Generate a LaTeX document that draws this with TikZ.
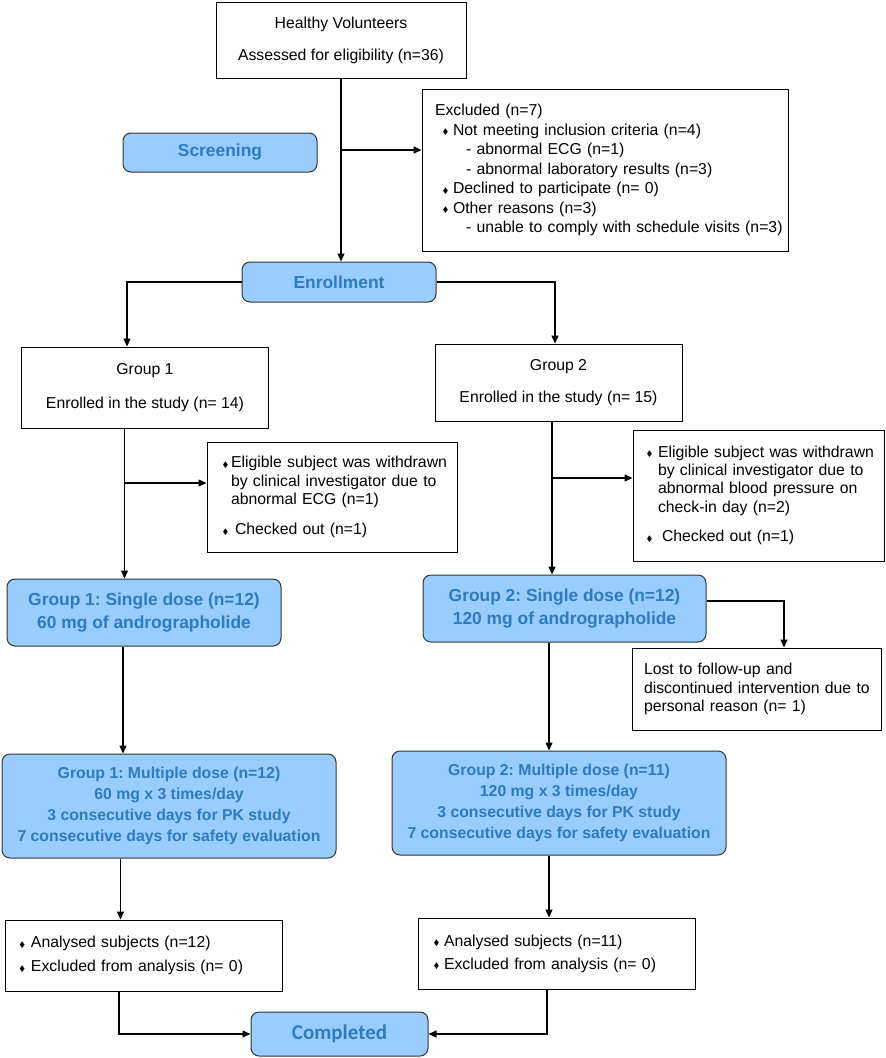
\documentclass[tikz,border=0pt]{standalone}
\usepackage{fontspec}
\setmainfont{Liberation Sans}
\newfontfamily\carlito{Carlito}
\newfontfamily\dejavu{DejaVu Sans}
\usetikzlibrary{arrows.meta}
\definecolor{boxfill}{HTML}{99CCFF}
\definecolor{boxtext}{HTML}{2E7BBF}
\definecolor{boxline}{HTML}{333333}
\newcommand\bul{\raisebox{0.5pt}{\scalebox{0.7}[1]{\dejavu\fontsize{9}{9}\selectfont ◆}}}
\frenchspacing
\begin{document}
\begin{tikzpicture}[x=1pt,y=-1pt,
  plain/.style={draw=black, line width=0.9pt, inner sep=0pt, rectangle, font=\fontsize{15.8}{19.5}\selectfont},
  phase/.style={draw=boxline, line width=1pt, fill=boxfill, rounded corners=8pt, inner sep=0pt, text=boxtext, font=\bfseries\fontsize{17.4}{23}\selectfont, align=center},
  multi/.style={phase, font=\bfseries\fontsize{15.8}{21}\selectfont},
  conn/.style={line width=1.2pt, -{Triangle[length=8pt,width=7pt]}}
]
\useasboundingbox (0,0) rectangle (886,1058);

\node[plain, minimum width=250pt, minimum height=76pt, align=center] (hv) at (341,40)
  {Healthy Volunteers\\[12.5pt]Assessed for eligibility (n=36)};

\node[phase, minimum width=194pt, minimum height=39pt] (scr) at (220,152.5) {Screening};

\node[plain, text width=366pt, minimum height=162pt, align=left] (exc) at (605,170)
  {\hspace*{13pt}Excluded (n=7)\\
   \hspace*{21pt}\makebox[10pt][l]{\bul}Not meeting inclusion criteria (n=4)\\
   \hspace*{44pt}- abnormal ECG (n=1)\\
   \hspace*{44pt}- abnormal laboratory results (n=3)\\
   \hspace*{21pt}\makebox[10pt][l]{\bul}Declined to participate (n= 0)\\
   \hspace*{21pt}\makebox[10pt][l]{\bul}Other reasons (n=3)\\
   \hspace*{44pt}- unable to comply with schedule visits (n=3)};

\node[phase, minimum width=194pt, minimum height=40pt] (enr) at (339,282) {Enrollment};

\node[plain, minimum width=247pt, minimum height=81pt, align=center] (g1) at (145,387.5)
  {Group 1\\[14.5pt]Enrolled in the study (n= 14)};
\node[plain, minimum width=247pt, minimum height=77pt, align=center] (g2) at (558.5,382.5)
  {Group 2\\[12.5pt]Enrolled in the study (n= 15)};

\node[plain, text width=250pt, minimum height=110pt, align=left, font=\fontsize{15.8}{18.5}\selectfont] (ex1) at (332,497)
  {\hspace*{16pt}\makebox[8pt][l]{\bul}Eligible subject was withdrawn\\
   \hspace*{24pt}by clinical investigator due to\\
   \hspace*{24pt}abnormal ECG (n=1)\\[11.5pt]
   \hspace*{16pt}\makebox[12pt][l]{\bul}Checked out (n=1)};

\node[plain, text width=251pt, minimum height=131pt, align=left, font=\fontsize{15.8}{18.3}\selectfont] (ex2) at (758.5,495.5)
  {\hspace*{14pt}\makebox[11pt][l]{\bul}Eligible subject was withdrawn\\
   \hspace*{25pt}by clinical investigator due to\\
   \hspace*{25pt}abnormal blood pressure on\\
   \hspace*{25pt}check-in day (n=2)\\[11.5pt]
   \hspace*{14pt}\makebox[15pt][l]{\bul}Checked out (n=1)};

\node[phase, minimum width=274pt, minimum height=67pt] (sd1) at (144,612.5)
  {Group 1: Single dose (n=12)\\60 mg of andrographolide};
\node[phase, minimum width=283pt, minimum height=67pt] (sd2) at (564.5,608.5)
  {Group 2: Single dose (n=12)\\120 mg of andrographolide};

\node[plain, text width=249pt, minimum height=82pt, align=left, font=\fontsize{15.8}{18.5}\selectfont] (lost) at (756.5,689)
  {\hspace*{12pt}Lost to follow-up and\\
   \hspace*{12pt}discontinued intervention due to\\
   \hspace*{12pt}personal reason (n= 1)};

\node[multi, minimum width=334pt, minimum height=104pt] (md1) at (169,806)
  {Group 1: Multiple dose (n=12)\\60 mg x 3 times/day\\3 consecutive days for PK study\\7 consecutive days for safety evaluation};
\node[multi, minimum width=334pt, minimum height=104pt] (md2) at (559,803)
  {Group 2: Multiple dose (n=11)\\120 mg x 3 times/day\\3 consecutive days for PK study\\7 consecutive days for safety evaluation};

\node[plain, text width=277pt, minimum height=71pt, align=left, font=\fontsize{15.8}{24}\selectfont] (an1) at (143.5,955.5)
  {\hspace*{15pt}\makebox[11pt][l]{\bul}Analysed subjects (n=12)\\
   \hspace*{15pt}\makebox[11pt][l]{\bul}Excluded from analysis (n= 0)};
\node[plain, text width=277pt, minimum height=71pt, align=left, font=\fontsize{15.8}{23}\selectfont] (an2) at (556.5,953.5)
  {\hspace*{16pt}\makebox[10pt][l]{\bul}Analysed subjects (n=11)\\
   \hspace*{16pt}\makebox[10pt][l]{\bul}Excluded from analysis (n= 0)};

\node[phase, minimum width=177pt, minimum height=44pt, font=\carlito\bfseries\fontsize{21}{24}\selectfont] (cmp) at (339.5,1034) {Completed};

% connectors
\draw[conn] (hv.south) -- (hv.south |- enr.north);
\coordinate (b1) at (341,150);
\draw[conn] (b1) -- (b1 -| exc.west);
\draw[conn] (enr.west) -| ([xshift=-18pt]g1.north);
\draw[conn] (enr.east) -| ([xshift=-3.5pt]g2.north);

\draw[conn] ([xshift=-20.5pt]g1.south) -- ([xshift=-20.5pt]g1.south |- sd1.north);
\coordinate (b2) at (124.5,483);
\draw[conn] (b2) -- (b2 -| ex1.west);

\draw[conn] ([xshift=-6.5pt]g2.south) -- ([xshift=-6.5pt]g2.south |- sd2.north);
\coordinate (b3) at (552,478);
\draw[conn] (b3) -- (b3 -| ex2.west);

\draw[conn] ([yshift=7.5pt]sd2.east) -| ([xshift=27.5pt]lost.north);

\draw[conn] ([xshift=-21pt]sd1.south) -- ([xshift=-21pt]sd1.south |- md1.north);
\draw[conn] ([xshift=-15.5pt]sd2.south) -- ([xshift=-15.5pt]sd2.south |- md2.north);

\draw[conn] ([xshift=-48.5pt]md1.south) -- ([xshift=-48.5pt]md1.south |- an1.north);
\draw[conn] ([xshift=-10pt]md2.south) -- ([xshift=-10pt]md2.south |- an2.north);

\draw[conn] ([xshift=-24.5pt]an1.south) |- (cmp.west);
\draw[conn] ([xshift=-9.5pt]an2.south) |- (cmp.east);
\end{tikzpicture}
\end{document}
